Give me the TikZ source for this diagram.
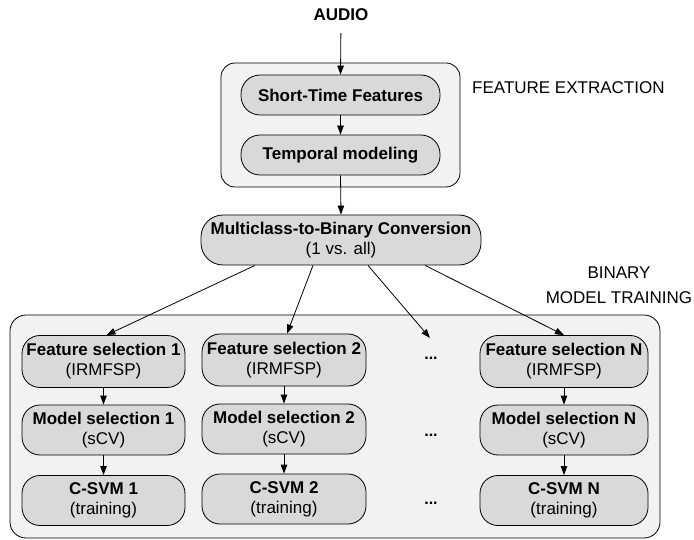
\documentclass[tikz,border=0pt]{standalone}
\usepackage{fontspec}
\setmainfont{Liberation Sans}
\usetikzlibrary{arrows.meta,calc}
\definecolor{outerfill}{HTML}{F1F3F3}
\definecolor{innerfill}{HTML}{D9D9D9}
\tikzset{
  x=1pt,y=-1pt,
  arr/.style={draw=black,line width=0.8pt,-{Triangle[length=9pt,width=6.5pt]}},
  groupbox/.style={draw=black,line width=0.8pt,fill=outerfill,rectangle,inner sep=0pt},
  procbox/.style={draw=black,line width=0.8pt,fill=innerfill,rectangle,inner sep=0pt,align=center,
    font=\fontsize{17}{20}\selectfont},
  lbl/.style={inner sep=0pt,align=center,font=\fontsize{17}{25}\selectfont},
  dotsnode/.style={inner sep=0pt,font=\fontsize{16}{16}\selectfont\bfseries},
}
\begin{document}
\begin{tikzpicture}
\useasboundingbox (0,0) rectangle (694,540);
% title
\node[inner sep=0pt,font=\fontsize{17}{17}\selectfont\bfseries] (audio) at (341,15) {AUDIO};
% feature extraction group
\node[groupbox,minimum width=239,minimum height=124,rounded corners=14] (fe) at (340.5,125) {};
\node[lbl,anchor=west] (felbl) at (472,88) {FEATURE EXTRACTION};
\node[procbox,minimum width=199,minimum height=40,rounded corners=19] (stf) at (340.5,95) {\bfseries Short-Time Features};
\node[procbox,minimum width=199,minimum height=40,rounded corners=19] (tm) at (340.5,155) {\bfseries Temporal modeling};
% multiclass
\node[procbox,minimum width=280,minimum height=50,rounded corners=22] (mc) at (341,240) {\textbf{Multiclass-to-Binary Conversion}\\(1 vs. all)};
% binary model training group
\node[groupbox,minimum width=650,minimum height=223,rounded corners=16] (bmt) at (335,426.5) {};
\node[lbl] (bmtlbl) at (619,285) {BINARY\\MODEL TRAINING};
% column 1
\node[procbox,minimum width=163,minimum height=52,rounded corners=18] (fs1) at (103.5,361.5) {\textbf{Feature selection 1}\\(IRMFSP)};
\node[procbox,minimum width=163,minimum height=50,rounded corners=18] (ms1) at (103.5,430) {\textbf{Model selection 1}\\(sCV)};
\node[procbox,minimum width=163,minimum height=50,rounded corners=18] (cs1) at (103.5,500.5) {\textbf{C-SVM 1}\\(training)};
% column 2
\node[procbox,minimum width=164,minimum height=52,rounded corners=18] (fs2) at (284,360) {\textbf{Feature selection 2}\\(IRMFSP)};
\node[procbox,minimum width=164,minimum height=50,rounded corners=18] (ms2) at (284,429) {\textbf{Model selection 2}\\(sCV)};
\node[procbox,minimum width=164,minimum height=50,rounded corners=18] (cs2) at (284,499) {\textbf{C-SVM 2}\\(training)};
% column N
\node[procbox,minimum width=168,minimum height=52,rounded corners=18] (fsn) at (564,361.5) {\textbf{Feature selection N}\\(IRMFSP)};
\node[procbox,minimum width=168,minimum height=50,rounded corners=18] (msn) at (564,430) {\textbf{Model selection N}\\(sCV)};
\node[procbox,minimum width=168,minimum height=50,rounded corners=18] (csn) at (564,500.5) {\textbf{C-SVM N}\\(training)};
% dots
\node[dotsnode] (d1) at (431,358) {...};
\node[dotsnode] (d2) at (431,435) {...};
\node[dotsnode] (d3) at (431,503) {...};
\coordinate (dtop) at (430,338);
% connectors
\draw[arr,shorten <=12pt] (audio.south) -- (stf.north);
\draw[arr] (stf.south) -- (tm.north);
\draw[arr] (tm.south) -- (mc.north);
\draw[arr] ($(mc.south)+(-86,0)$) -- ($(fs1.north)+(3,0)$);
\draw[arr] ($(mc.south)+(-28,0)$) -- ($(fs2.north)+(3,0)$);
\draw[arr] ($(mc.south)+(27,0)$) -- (dtop);
\draw[arr] ($(mc.south)+(84,0)$) -- (fsn.north);
\draw[arr] (fs1) -- (ms1);
\draw[arr] (ms1) -- (cs1);
\draw[arr] (fs2) -- (ms2);
\draw[arr] (ms2) -- (cs2);
\draw[arr] (fsn) -- (msn);
\draw[arr] (msn) -- (csn);
\end{tikzpicture}
\end{document}
